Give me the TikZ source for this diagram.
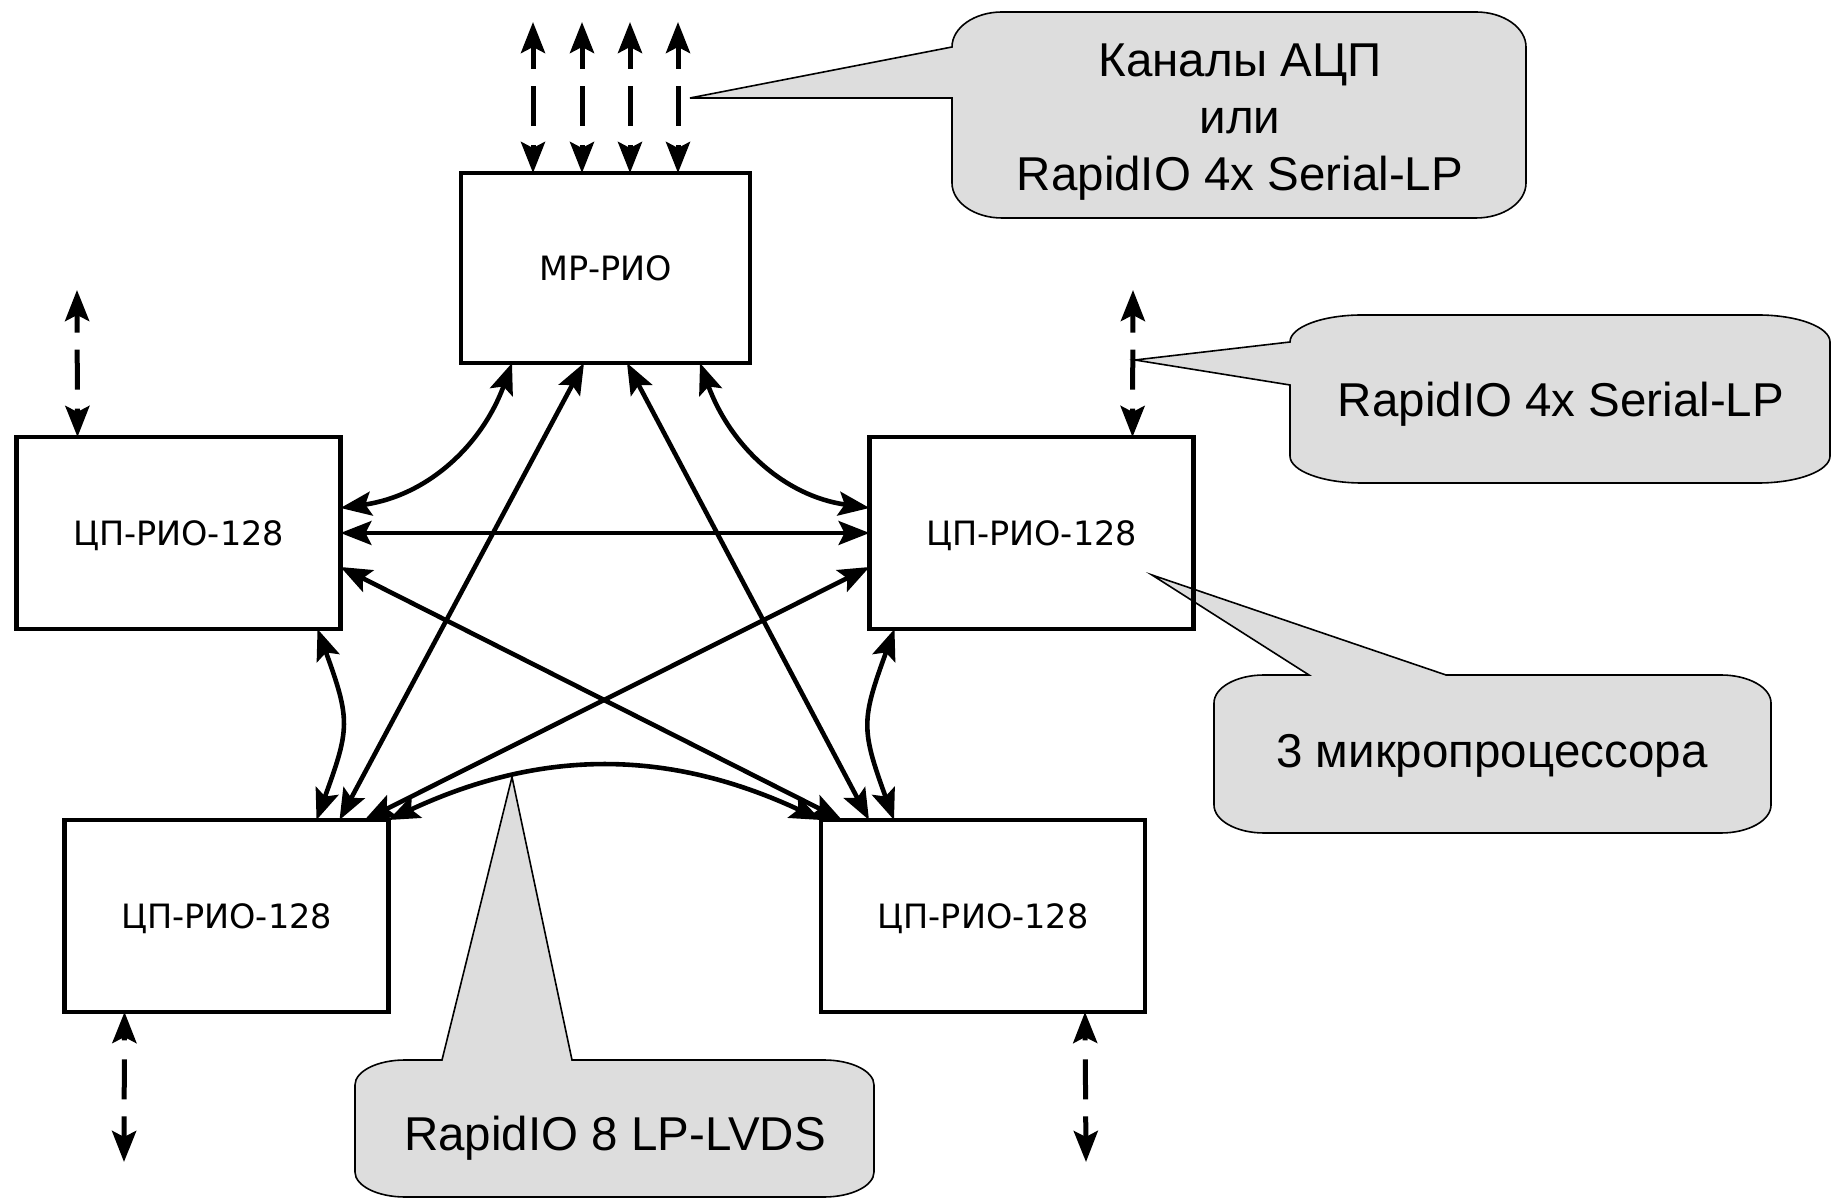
\documentclass[tikz,border=0pt]{standalone}
\usepackage{fontspec}
\usetikzlibrary{arrows.meta}
\newfontfamily\boxfont{DejaVu Sans}
\newfontfamily\callfont{Liberation Sans}
\definecolor{calloutgray}{RGB}{221,221,221}

\begin{document}
\begin{tikzpicture}[x=1pt, y=1pt,
  tip/.tip={Stealth[length=31pt, width=24pt, inset=6pt]},
  cpbox/.style={draw, line width=4.5pt, minimum width=324pt, minimum height=192pt,
    inner sep=0pt, outer sep=0pt, text height=24.5pt, text depth=0pt,
    font=\boxfont\fontsize{33.5}{40}\selectfont},
  link/.style={line width=4.6pt, tip-tip},
  hlink/.style={line width=3.5pt, tip-tip},
  io/.style={line width=5pt, tip-tip, dash pattern=on 5pt off 19pt on 40pt off 17pt on 60pt},
  callout/.style={fill=calloutgray, draw=black, line width=1.6pt, line join=miter},
  calltext/.style={inner sep=0pt, font=\callfont\fontsize{47.5}{57}\selectfont, align=center}]

\useasboundingbox (0,0) rectangle (1831,1200);

% ---------- callouts ----------
\coordinate (p1) at (690,1102);
\draw[callout] (p1) -- (952,1153)
  arc[start angle=180, end angle=90, x radius=50, y radius=35] -- (1476,1188)
  arc[start angle=90, end angle=0, x radius=50, y radius=35] -- (1526,1017)
  arc[start angle=0, end angle=-90, x radius=50, y radius=35] -- (1002,982)
  arc[start angle=-90, end angle=-180, x radius=50, y radius=35] -- (952,1102) -- cycle;
\node[calltext, anchor=north] (t1) at (1240,1156) {Каналы АЦП\\или\\RapidIO 4x Serial-LP};

\coordinate (p2) at (1135,840);
\draw[callout] (p2) -- (1290,858)
  arc[start angle=180, end angle=90, x radius=72, y radius=27] -- (1758,885)
  arc[start angle=90, end angle=0, x radius=72, y radius=27] -- (1830,744)
  arc[start angle=0, end angle=-90, x radius=72, y radius=27] -- (1362,717)
  arc[start angle=-90, end angle=-180, x radius=72, y radius=27] -- (1290,815) -- cycle;
\node[calltext, anchor=base] (t2) at (1561,783) {RapidIO 4x Serial-LP};

\coordinate (p3) at (1152,625);
\draw[callout] (p3) -- (1446,525) -- (1721,525)
  arc[start angle=90, end angle=0, x radius=50, y radius=28] -- (1771,395)
  arc[start angle=0, end angle=-90, x radius=50, y radius=28] -- (1264,367)
  arc[start angle=-90, end angle=-180, x radius=50, y radius=28] -- (1214,497)
  arc[start angle=180, end angle=90, x radius=50, y radius=28] -- (1309,525) -- cycle;
\node[calltext, anchor=base] (t3) at (1492,432) {3 микропроцессора};

\coordinate (p4) at (512,423);
\draw[callout] (p4) -- (572,140) -- (824,140)
  arc[start angle=90, end angle=0, x radius=50, y radius=25] -- (874,28)
  arc[start angle=0, end angle=-90, x radius=50, y radius=25] -- (405,3)
  arc[start angle=-90, end angle=-180, x radius=50, y radius=25] -- (355,115)
  arc[start angle=180, end angle=90, x radius=50, y radius=25] -- (442,140) -- cycle;
\node[calltext, anchor=base] (t4) at (615,50) {RapidIO 8 LP-LVDS};

% ---------- modules ----------
\node[cpbox, minimum width=289pt, minimum height=190pt] (mp) at (605.5,932) {МР-РИО};
\node[cpbox] (cpl)  at (178.5,667) {ЦП-РИО-128};
\node[cpbox] (cpr)  at (1031.5,667) {ЦП-РИО-128};
\node[cpbox] (cpbl) at (226.5,284) {ЦП-РИО-128};
\node[cpbox] (cpbr) at (983,284) {ЦП-РИО-128};

% ---------- RapidIO links between modules ----------
\draw[link] ([xshift=51pt]mp.south west) to[out=-110, in=8] ([yshift=25pt]cpl.east);
\draw[link] ([xshift=239pt]mp.south west) to[out=-70, in=172] ([yshift=25pt]cpr.west);
\draw[hlink] (cpl.east) -- (cpr.west);
\draw[link] ([xshift=123pt]mp.south west) -- ([xshift=-49pt]cpbl.north east);
\draw[link] ([xshift=166pt]mp.south west) -- ([xshift=48pt]cpbr.north west);
\draw[link] ([yshift=-34pt]cpl.east) -- ([xshift=21pt]cpbr.north west);
\draw[link] ([yshift=-34pt]cpr.west) -- ([xshift=-24pt]cpbl.north east);
\draw[link] ([xshift=-23pt]cpl.south east) to[out=-70, in=70, looseness=1.3] ([xshift=-72pt]cpbl.north east);
\draw[link] ([xshift=25pt]cpr.south west) to[out=-110, in=110, looseness=1.3] ([xshift=73pt]cpbr.north west);
\draw[link] (cpbl.north east) to[out=25, in=155] (cpbr.north west);

% ---------- external channels ----------
\coordinate (e1) at (533,1178);
\coordinate (e2) at (582,1178);
\coordinate (e3) at (630,1178);
\coordinate (e4) at (678,1178);
\draw[io] ([xshift=72pt]mp.north west) -- (e1);
\draw[io] ([xshift=121pt]mp.north west) -- (e2);
\draw[io] ([xshift=169pt]mp.north west) -- (e3);
\draw[io] ([xshift=217pt]mp.north west) -- (e4);

\coordinate (el) at (77,910);
\coordinate (er) at (1133,910);
\draw[io] ([xshift=61pt]cpl.north west) -- (el);
\draw[io] ([xshift=263pt]cpr.north west) -- (er);

\coordinate (ebl) at (124,38);
\coordinate (ebr) at (1086,38);
\draw[io] ([xshift=60pt]cpbl.south west) -- (ebl);
\draw[io] ([xshift=264pt]cpbr.south west) -- (ebr);

\end{tikzpicture}
\end{document}
